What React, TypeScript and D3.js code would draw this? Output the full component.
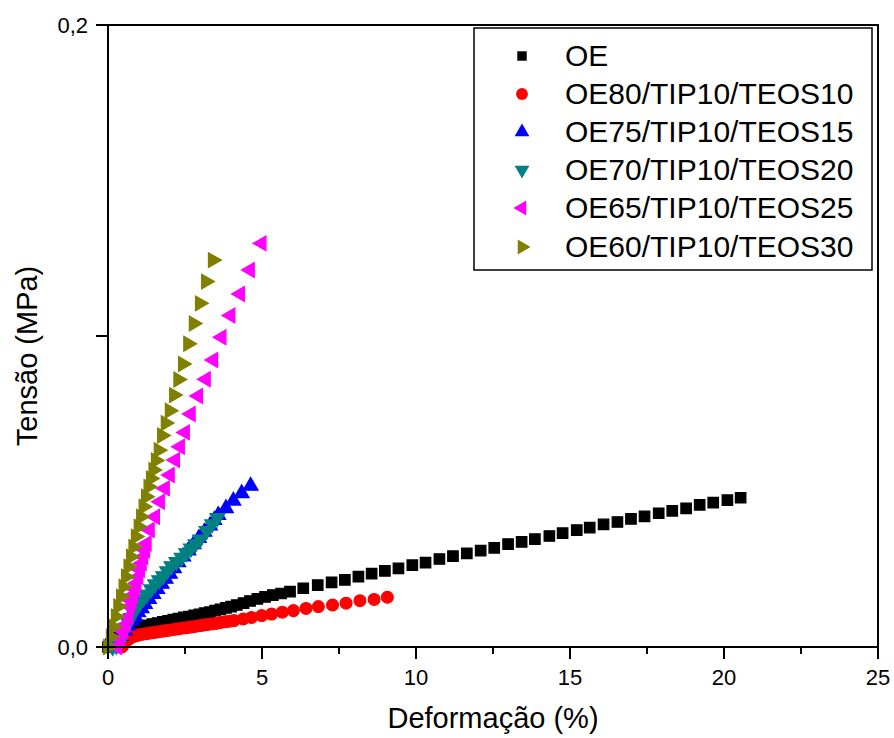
import React from "react";
import * as d3 from "d3";

// ---- data (strain %, stress MPa) ----
const seriesNames = [
  "OE",
  "OE80/TIP10/TEOS10",
  "OE75/TIP10/TEOS15",
  "OE70/TIP10/TEOS20",
  "OE65/TIP10/TEOS25",
  "OE60/TIP10/TEOS30",
];

const dataOE: [number, number][] = [
  [0.0, 0.0], [0.1, 0.001], [0.2, 0.002], [0.3, 0.003], [0.4, 0.0039], [0.5, 0.0046],
  [0.6, 0.0052], [0.7, 0.0057], [0.8, 0.006], [0.93, 0.0063], [1.1, 0.0067], [1.27, 0.007],
  [1.44, 0.0074], [1.61, 0.0077], [1.78, 0.0081], [1.95, 0.0084], [2.12, 0.0088], [2.29, 0.0091],
  [2.46, 0.0095], [2.63, 0.0098], [2.8, 0.0102], [2.97, 0.0105], [3.14, 0.0109], [3.31, 0.0112],
  [3.48, 0.0117], [3.65, 0.0121], [3.83, 0.0126], [4.0, 0.013], [4.18, 0.0135], [4.4, 0.0141],
  [4.61, 0.0148], [4.85, 0.0155], [5.1, 0.0161], [5.35, 0.0167], [5.62, 0.0172], [5.91, 0.0178],
  [6.34, 0.0189], [6.81, 0.0199], [7.26, 0.0208], [7.69, 0.0216], [8.13, 0.0226], [8.56, 0.0236],
  [8.99, 0.0245], [9.43, 0.0253], [9.88, 0.0263], [10.31, 0.0271], [10.76, 0.0283], [11.2, 0.0292],
  [11.65, 0.0301], [12.1, 0.031], [12.54, 0.0319], [12.99, 0.0331], [13.43, 0.0338], [13.86, 0.0347],
  [14.33, 0.0357], [14.76, 0.0366], [15.22, 0.0376], [15.64, 0.0384], [16.09, 0.0394], [16.54, 0.0402],
  [16.98, 0.0412], [17.42, 0.042], [17.88, 0.043], [18.32, 0.0438], [18.77, 0.0446], [19.21, 0.0457],
  [19.65, 0.0464], [20.11, 0.0472], [20.54, 0.048],
];

const dataOE80: [number, number][] = [
  [0.45, 0.0], [0.5, 0.0007], [0.55, 0.0014], [0.6, 0.002], [0.66, 0.0025], [0.73, 0.0029],
  [0.8, 0.0033], [0.9, 0.0036], [1.0, 0.0039], [1.13, 0.0041], [1.26, 0.0043], [1.39, 0.0045],
  [1.52, 0.0047], [1.65, 0.0049], [1.78, 0.0051], [1.91, 0.0053], [2.04, 0.0055], [2.17, 0.0057],
  [2.3, 0.0059], [2.43, 0.0061], [2.56, 0.0062], [2.69, 0.0064], [2.82, 0.0066], [2.95, 0.0068],
  [3.08, 0.007], [3.21, 0.0072], [3.36, 0.0074], [3.51, 0.0076], [3.66, 0.0079], [3.81, 0.0081],
  [3.95, 0.0083], [4.09, 0.0085], [4.39, 0.009], [4.66, 0.0095], [4.99, 0.0101], [5.31, 0.0106],
  [5.66, 0.0112], [6.02, 0.0117], [6.43, 0.0124], [6.83, 0.013], [7.29, 0.0135], [7.73, 0.0141],
  [8.18, 0.0149], [8.64, 0.0153], [9.07, 0.016],
];

const dataOE75: [number, number][] = [
  [0.2, 0.0], [0.3, 0.0015], [0.42, 0.0035], [0.55, 0.0053], [0.66, 0.0069], [0.77, 0.0085],
  [0.88, 0.0098], [0.98, 0.0111], [1.09, 0.0124], [1.2, 0.0138], [1.33, 0.0154], [1.47, 0.017],
  [1.6, 0.0186], [1.74, 0.0203], [1.87, 0.0219], [2.01, 0.0235], [2.14, 0.0253], [2.28, 0.0272],
  [2.44, 0.0291], [2.61, 0.031], [2.78, 0.033], [2.95, 0.035], [3.13, 0.037], [3.31, 0.039],
  [3.45, 0.0408], [3.58, 0.0424], [3.83, 0.0446], [4.07, 0.047], [4.34, 0.0494], [4.63, 0.0518],
];

const dataOE70: [number, number][] = [
  [0.15, 0.0], [0.27, 0.0004], [0.39, 0.0014], [0.5, 0.0046], [0.58, 0.0062], [0.66, 0.0078],
  [0.74, 0.0094], [0.82, 0.011], [0.93, 0.0127], [1.04, 0.0143], [1.15, 0.0156], [1.26, 0.0169],
  [1.4, 0.0186], [1.53, 0.0202], [1.66, 0.0215], [1.79, 0.0228], [1.92, 0.0244], [2.06, 0.026],
  [2.22, 0.0274], [2.39, 0.0287], [2.54, 0.0302], [2.69, 0.0317], [2.84, 0.0331], [2.99, 0.0346],
  [3.2, 0.0373], [3.38, 0.0395], [3.55, 0.0415],
];

const dataOE65: [number, number][] = [
  [0.3, 0.0], [0.4, 0.0025], [0.5, 0.005], [0.58, 0.0072], [0.66, 0.0097], [0.71, 0.013],
  [0.77, 0.0148], [0.82, 0.0167], [0.88, 0.0186], [0.93, 0.0205], [0.99, 0.0226], [1.04, 0.0248],
  [1.1, 0.0269], [1.15, 0.029], [1.21, 0.0311], [1.26, 0.0333], [1.36, 0.0376], [1.53, 0.0419],
  [1.69, 0.0467], [1.85, 0.051], [2.01, 0.0553], [2.18, 0.0601], [2.34, 0.0644], [2.5, 0.069],
  [2.69, 0.0749], [2.93, 0.0807], [3.18, 0.0861], [3.42, 0.0923], [3.69, 0.0996], [3.98, 0.1066],
  [4.29, 0.1135], [4.61, 0.1212], [4.99, 0.1298],
];

const dataOE60: [number, number][] = [
  [0.0, 0.0], [0.09, 0.0033], [0.17, 0.0065], [0.25, 0.0098], [0.33, 0.013], [0.42, 0.0162],
  [0.5, 0.0194], [0.58, 0.0226], [0.66, 0.0258], [0.74, 0.029], [0.82, 0.0322], [0.9, 0.0355],
  [0.99, 0.0387], [1.07, 0.0419], [1.15, 0.0451], [1.23, 0.0483], [1.31, 0.0515], [1.39, 0.0542],
  [1.47, 0.0569], [1.55, 0.06], [1.64, 0.0633], [1.75, 0.068], [1.87, 0.072], [2.0, 0.076],
  [2.14, 0.081], [2.28, 0.086], [2.43, 0.091], [2.6, 0.0975], [2.78, 0.104], [2.98, 0.1105],
  [3.18, 0.1175], [3.4, 0.1244],
];

const seriesData = [dataOE, dataOE80, dataOE75, dataOE70, dataOE65, dataOE60];
const seriesColors = ["#000000", "#FF0000", "#0000FF", "#008080", "#FF00FF", "#808000"];
// marker: shape + rotation
const seriesShapes = ["square", "circle", "tri", "tri", "tri", "tri"];
const seriesRotation = [0, 0, 0, 180, -90, 90];

const xMajorTicks = [0, 5, 10, 15, 20, 25];
const xMinorTicks = [2.5, 7.5, 12.5, 17.5, 22.5];
const yMajorTicks = [0, 0.1, 0.2];
const yTickLabels: Record<string, string> = { "0": "0,0", "0.2": "0,2" };

const FONT = "'Liberation Sans', Arial, Helvetica, sans-serif";

export default function App() {
  const W = 894;
  const H = 738;
  const left = 108, right = 878, top = 25, bottom = 647;
  const x = d3.scaleLinear().domain([0, 25]).range([left, right]);
  const y = d3.scaleLinear().domain([0, 0.2]).range([bottom, top]);

  const symPath = (shape: string) => {
    if (shape === "square") return d3.symbol().type(d3.symbolSquare).size(110)()!;
    if (shape === "circle") return d3.symbol().type(d3.symbolCircle).size(110)()!;
    return d3.symbol().type(d3.symbolTriangle).size(95)()!;
  };

  const legendX = 474, legendY = 28, legendW = 398, legendH = 242;
  const rowY = [56, 94, 132, 170, 208, 247];

  return (
    <svg
      width={W}
      height={H}
      style={{ position: "absolute", left: 0, top: 0, background: "#fff" }}
      fontFamily={FONT}
    >
      <rect x={0} y={0} width={W} height={H} fill="#fff" />
      {/* series */}
      {seriesData.map((data, si) => {
        const p = symPath(seriesShapes[si]);
        return (
          <g key={si} fill={seriesColors[si]} stroke={seriesColors[si]} strokeWidth={1.2} strokeLinejoin="miter">
            {data.map((d, i) => (
              <path
                key={i}
                d={p}
                transform={`translate(${x(d[0])},${y(d[1])}) rotate(${seriesRotation[si]})`}
              />
            ))}
          </g>
        );
      })}

      {/* frame */}
      <rect x={left} y={top} width={right - left} height={bottom - top} fill="none" stroke="#000" strokeWidth={2} />

      {/* x ticks */}
      {xMajorTicks.map((t) => (
        <g key={"xm" + t}>
          <line x1={x(t)} x2={x(t)} y1={bottom} y2={bottom + 12} stroke="#000" strokeWidth={2} />
          <text x={x(t)} y={685} textAnchor="middle" fontSize={22}>
            {String(t)}
          </text>
        </g>
      ))}
      {xMinorTicks.map((t) => (
        <line key={"xn" + t} x1={x(t)} x2={x(t)} y1={bottom} y2={bottom + 7} stroke="#000" strokeWidth={2} />
      ))}

      {/* y ticks */}
      {yMajorTicks.map((t) => (
        <g key={"ym" + t}>
          <line x1={left - 12} x2={left} y1={y(t)} y2={y(t)} stroke="#000" strokeWidth={2} />
          {yTickLabels[String(t)] && (
            <text x={88} y={y(t) + 8} textAnchor="end" fontSize={22}>
              {yTickLabels[String(t)]}
            </text>
          )}
        </g>
      ))}

      {/* axis titles */}
      <text x={493} y={728} textAnchor="middle" fontSize={29}>
        Deformação (%)
      </text>
      <text transform={`translate(37,356) rotate(-90)`} textAnchor="middle" fontSize={29}>
        Tensão (MPa)
      </text>

      {/* legend */}
      <rect x={legendX} y={legendY} width={legendW} height={legendH} fill="#fff" stroke="#000" strokeWidth={1.5} />
      {seriesNames.map((name, si) => (
        <g key={"lg" + si}>
          <path
            d={symPath(seriesShapes[si])}
            fill={seriesColors[si]}
            transform={`translate(522,${rowY[si]}) rotate(${seriesRotation[si]}) scale(${seriesShapes[si] === "square" ? 0.9 : 1.0})`}
          />
          <text x={565} y={rowY[si] + 10} fontSize={30}>
            {name}
          </text>
        </g>
      ))}
    </svg>
  );
}
